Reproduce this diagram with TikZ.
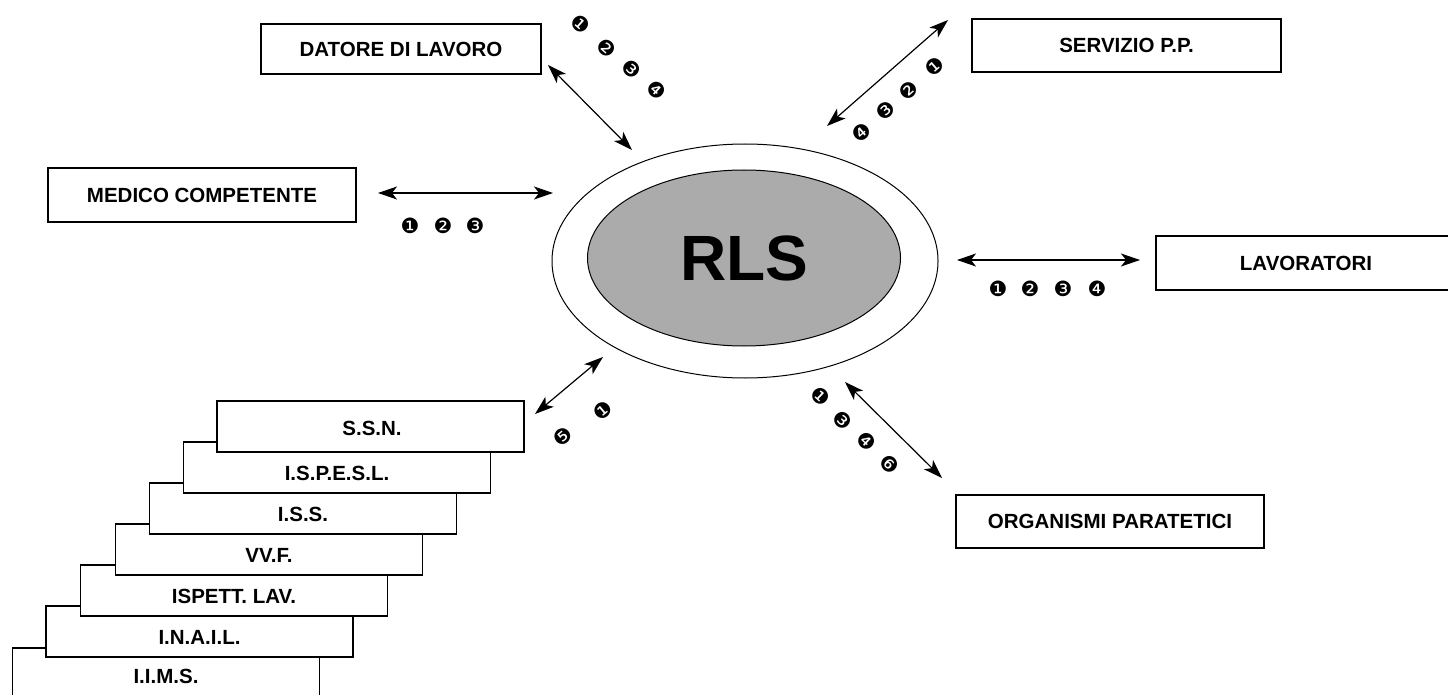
\documentclass[tikz,border=0pt]{standalone}
\usepackage{fontspec}
\setmainfont{Liberation Sans}
\newfontfamily\dingfont{DejaVu Sans}
\usetikzlibrary{arrows.meta,shapes.geometric}
\definecolor{rlsgray}{HTML}{ABABAB}
\tikzset{
  x=1pt, y=-1pt,
  labbox/.style={draw, line width=1.3pt, fill=white, minimum width=280pt, minimum height=50pt, inner sep=0pt, font=\fontsize{20.5}{22}\selectfont\bfseries},
  stackbox/.style={draw, line width=1.3pt, fill=white, minimum width=307pt, minimum height=51pt, inner sep=0pt},
  stacktext/.style={font=\fontsize{20.5}{22}\selectfont\bfseries, inner sep=0pt},
  dbl/.style={line width=1.2pt, {Stealth[length=19pt,width=13pt,inset=5pt]}-{Stealth[length=19pt,width=13pt,inset=5pt]}},
  num/.style={font=\dingfont\fontsize{21}{21}\selectfont, inner sep=0pt}
}
\begin{document}
\begin{tikzpicture}
\useasboundingbox (0,0) rectangle (1448,695);
% central ellipses
\node[draw, line width=1pt, ellipse, minimum width=386pt, minimum height=234pt, inner sep=0pt] (outer) at (745,261) {};
\node[draw, line width=1pt, fill=rlsgray, ellipse, minimum width=313pt, minimum height=176pt, inner sep=0pt, font=\fontsize{64}{64}\selectfont\bfseries] (rls) at (744,258) {RLS};
% top boxes
\node[labbox] (datore) at (401,49) {DATORE DI LAVORO};
\node[labbox, minimum width=309pt, minimum height=53pt] (servizio) at (1126.5,45.5) {SERVIZIO P.P.};
\node[labbox, minimum width=308pt, minimum height=54pt] (medico) at (202,195) {MEDICO COMPETENTE};
\node[labbox, minimum width=300pt, minimum height=54pt] (lavoratori) at (1306,263) {LAVORATORI};
\node[labbox, minimum width=308pt, minimum height=53pt] (organismi) at (1110,521.5) {ORGANISMI PARATETICI};
% stacked boxes
\node[stackbox] (iims) at (166,673.5) {};
\node[stacktext] (iimst) at (166,676) {I.I.M.S.};
\node[stackbox] (inail) at (199.5,631.5) {};
\node[stacktext] (inailt) at (199.5,637) {I.N.A.I.L.};
\node[stackbox] (ispett) at (234,590.5) {};
\node[stacktext] (ispettt) at (234,596) {ISPETT. LAV.};
\node[stackbox] (vvf) at (269,549.5) {};
\node[stacktext] (vvft) at (269,555) {VV.F.};
\node[stackbox] (iss) at (303,508.5) {};
\node[stacktext] (isst) at (303,514) {I.S.S.};
\node[stackbox] (ispesl) at (337,467.5) {};
\node[stacktext] (isplt) at (337,473) {I.S.P.E.S.L.};
\node[stackbox] (ssn) at (370.5,426.5) {};
\node[stacktext] (ssnt) at (372,428) {S.S.N.};
% arrow end points
\coordinate (d1) at (548,65);  \coordinate (d2) at (632,150);
\coordinate (s1) at (948,20);  \coordinate (s2) at (827,126);
\coordinate (m1) at (378,193); \coordinate (m2) at (553,193);
\coordinate (l1) at (957,260); \coordinate (l2) at (1140,260);
\coordinate (o1) at (845,382); \coordinate (o2) at (942,478);
\coordinate (n1) at (535,414); \coordinate (n2) at (603,357);
\draw[dbl] (d1) -- (d2);
\draw[dbl] (s1) -- (s2);
\draw[dbl] (m1) -- (m2);
\draw[dbl] (l1) -- (l2);
\draw[dbl] (o1) -- (o2);
\draw[dbl] (n1) -- (n2);
% numbers
\node[num, rotate=-42] (dn1) at (581,24) {❶};
\node[num, rotate=-42] (dn2) at (607,48) {❷};
\node[num, rotate=-42] (dn3) at (632,69) {❸};
\node[num, rotate=-42] (dn4) at (657,90) {❹};
\node[num, rotate=41] (sn1) at (935,67) {❶};
\node[num, rotate=41] (sn2) at (909,91) {❷};
\node[num, rotate=41] (sn3) at (886,111) {❸};
\node[num, rotate=41] (sn4) at (862,133) {❹};
\node[num] (mn1) at (410,226) {❶};
\node[num] (mn2) at (443,226) {❷};
\node[num] (mn3) at (475,226) {❸};
\node[num] (ln1) at (998,289) {❶};
\node[num] (ln2) at (1030,289) {❷};
\node[num] (ln3) at (1063,289) {❸};
\node[num] (ln4) at (1097,289) {❹};
\node[num, rotate=-43] (on1) at (821,396) {❶};
\node[num, rotate=-43] (on2) at (843,420) {❸};
\node[num, rotate=-43] (on3) at (867,441) {❹};
\node[num, rotate=-43] (on4) at (890,464) {❻};
\node[num, rotate=40] (nn1) at (603,411) {❶};
\node[num, rotate=40] (nn2) at (563,437) {❺};
\end{tikzpicture}
\end{document}
